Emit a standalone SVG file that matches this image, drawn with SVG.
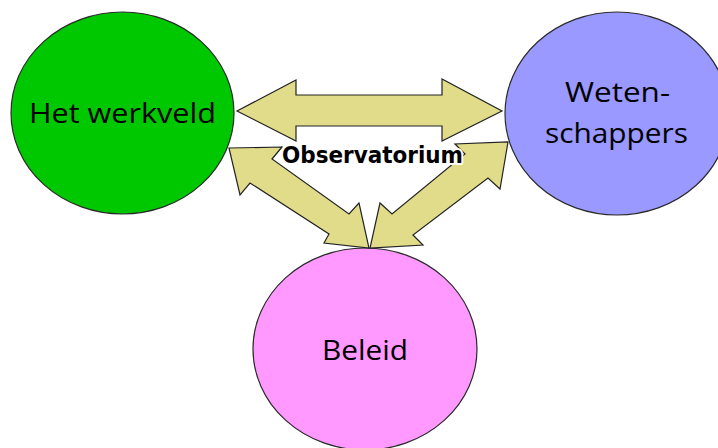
<svg xmlns="http://www.w3.org/2000/svg" width="718" height="448" viewBox="0 0 718 448">
<style>
.node ellipse{stroke:#2a2a2a;stroke-width:1.2}
.lbl{font-family:"Open Sans","Noto Sans",sans-serif;font-size:27px;fill:#000;text-anchor:middle}
.arrow{fill:#e0dc8a;stroke:#222;stroke-width:1.2;stroke-linejoin:miter}
.obs{font-family:"DejaVu Sans",sans-serif;font-weight:bold;font-size:22.5px;fill:#000;stroke:#fff;stroke-width:4;paint-order:stroke;stroke-linejoin:round;text-anchor:middle}
</style>
<rect width="718" height="448" fill="#fff"/>
<g id="werkveld" class="node">
<ellipse cx="122.5" cy="113" rx="111.5" ry="101" fill="#00c800"/>
<text class="lbl" x="122.5" y="123" textLength="187" lengthAdjust="spacingAndGlyphs">Het werkveld</text>
</g>
<g id="wetenschappers" class="node">
<ellipse cx="617" cy="113.5" rx="112" ry="101.5" fill="#9999ff"/>
<text class="lbl" x="617.5" y="102" textLength="105" lengthAdjust="spacingAndGlyphs">Weten-</text>
<text class="lbl" x="616.5" y="143" textLength="143" lengthAdjust="spacingAndGlyphs">schappers</text>
</g>
<g id="beleid" class="node">
<ellipse cx="365" cy="349" rx="112" ry="101" fill="#ff99ff"/>
<text class="lbl" x="365" y="360" textLength="86" lengthAdjust="spacingAndGlyphs">Beleid</text>
</g>
<g id="connectors">
<polygon class="arrow" points="237,111 296,80 296,95 442,95 442,79 502,111 442,141 442,126 296,126 296,141"/>
<polygon class="arrow" points="229,148 282,147 272,159 349,214 359,203 369,248 324,243 329,234 250,183 240,195"/>
<polygon class="arrow" points="508,142 500,189 488,178 413,235 423,245 370,248 380,203 392,214 465,154 455,144"/>
</g>
<g id="observatorium">
<text class="obs" x="372.5" y="162.5" textLength="181" lengthAdjust="spacingAndGlyphs">Observatorium</text>
</g>
</svg>
